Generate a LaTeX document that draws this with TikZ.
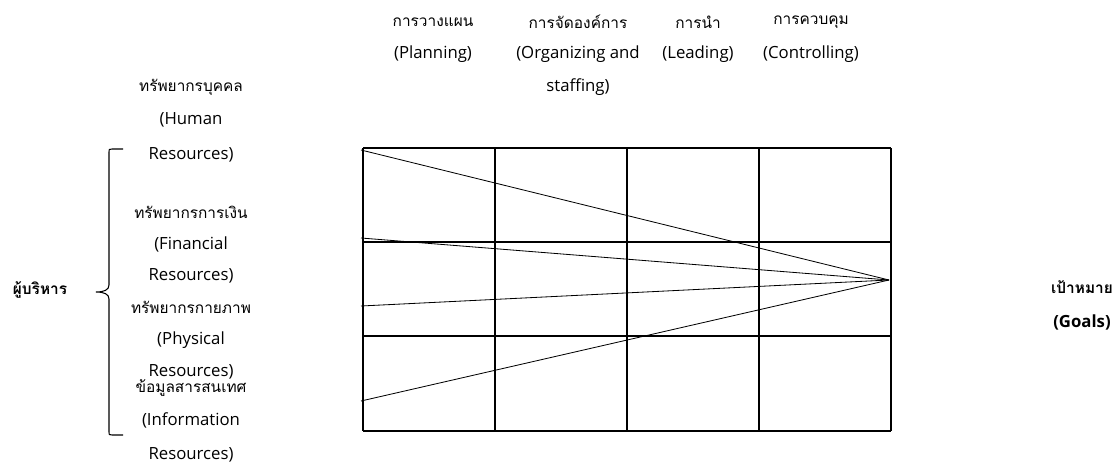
\documentclass[tikz,border=0pt]{standalone}
\usepackage{fontspec}
\setmainfont{Open Sans}
\newfontfamily\thai[Script=Thai,Scale=0.92]{Loma}
\usetikzlibrary{positioning}
\definecolor{Ink}{HTML}{000000}
\tikzset{
  lbl/.style={font=\fontsize{14.3}{16}\selectfont,text=Ink,inner sep=0pt},
  boldlbl/.style={lbl,font=\fontsize{14.3}{16}\selectfont\bfseries},
  gridline/.style={draw=Ink,line width=1.3pt},
  ray/.style={draw=Ink,line width=0.7pt},
  bracket/.style={draw=Ink,line width=0.9pt}
}
\begin{document}
\begin{tikzpicture}[x=0.03cm,y=-0.03cm]
  \useasboundingbox (0,0) rectangle (1116,471);
  \foreach \x/\tha/\eng [count=\i] in {
    433/การวางแผน/{(Planning)},
    578/การจัดองค์การ/{(Organizing and},
    698/การนำ/{(Leading)},
    811/การควบคุม/{(Controlling)}}{
    \node[lbl] (h\i a) at (\x,22) {\thai\tha};
    \node[lbl] (h\i b) at (\x,54) {\eng};
  }
  \node[lbl] (h2c) at (578,87) {staffing)};
  \foreach \txt/\y [count=\i] in {
    {\thai ทรัพยากรบุคคล}/87, {(Human}/120, {Resources)}/155,
    {\thai ทรัพยากรการเงิน}/212, {(Financial}/244, {Resources)}/276,
    {\thai ทรัพยากรกายภาพ}/307, {(Physical}/340, {Resources)}/372,
    {\thai ข้อมูลสารสนเทศ}/388, {(Information}/420, {Resources)}/455}{
    \node[lbl] (r\i) at (191,\y) {\txt};
  }
  \node[boldlbl] (boss) at (40,290) {\thai ผู้บริหาร};
  \node[boldlbl] (goal) at (1082,287) {\thai เป้าหมาย};
  \node[boldlbl] (goaleng) at (1082,322) {(Goals)};
  \foreach \x in {363,495,627,759,891}
    \draw[gridline] (\x,148) -- (\x,431);
  \foreach \y in {148,242,336,431}
    \draw[gridline] (363,\y) -- (891,\y);
  \coordinate (tip) at (889,280);
  \foreach \y [count=\i] in {150,238,306,401}{
    \coordinate (s\i) at (361,\y);
    \draw[ray] (s\i) -- (tip);
  }
  \coordinate (btop) at (123,149);
  \coordinate (bmid) at (96,292);
  \coordinate (bbot) at (123,435);
  \draw[bracket] (btop) -- (112,149) .. controls (109,149) .. (109,153)
    -- (109,285) .. controls (109,290) and (104,292) .. (bmid)
    .. controls (104,292) and (109,294) .. (109,299)
    -- (109,431) .. controls (109,435) .. (112,435) -- (bbot);
\end{tikzpicture}
\end{document}
